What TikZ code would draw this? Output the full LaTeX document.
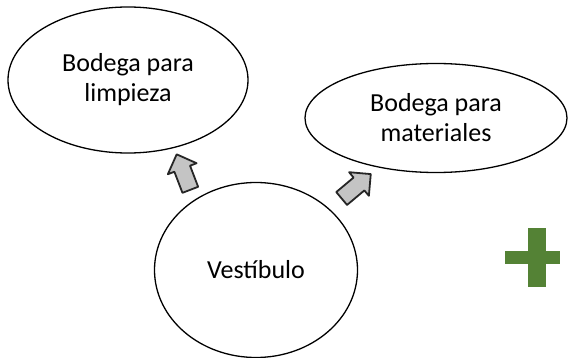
\documentclass[tikz,border=0pt]{standalone}
\usepackage{fontspec}
\setmainfont{Carlito}
\usepackage{xcolor}
\usetikzlibrary{shapes.geometric, shapes.arrows}
\definecolor{PlusGreen}{HTML}{548235}
\definecolor{ArrowGray}{HTML}{C4C4C4}
\definecolor{ArrowLine}{HTML}{262626}

\begin{document}
\begin{tikzpicture}[
  x=1pt, y=-1pt,
  room/.style={ellipse, draw=black, line width=1.3pt, fill=white, inner sep=0pt,
               align=center, font=\fontsize{26}{30}\selectfont},
  blockarr/.style={single arrow, draw=ArrowLine, fill=ArrowGray, line width=1.8pt,
                   line join=round, inner xsep=0pt, inner ysep=7.5pt,
                   minimum height=38pt, single arrow head extend=7pt},
]
\useasboundingbox (0,0) rectangle (568,358);

% ===== Rooms =====
  \node[room, minimum width=240pt, minimum height=146pt]
    (bodLimp) at (128,80) {Bodega para\\limpieza};
  \node[room, minimum width=262pt, minimum height=109pt]
    (bodMat) at (436,118) {Bodega para\\materiales};
  \node[room, minimum width=203pt, minimum height=175pt]
    (vest) at (256,270) {Vestíbulo};

% ===== Block arrows =====
  \node[blockarr, rotate=111] (arrL) at (185,176) {};
  \node[blockarr, rotate=40] (arrM) at (353,189) {};

% ===== Plus sign =====
  \fill[PlusGreen] (528,228) rectangle (546,287);
  \fill[PlusGreen] (505,251) rectangle (560,264);

\end{tikzpicture}
\end{document}
